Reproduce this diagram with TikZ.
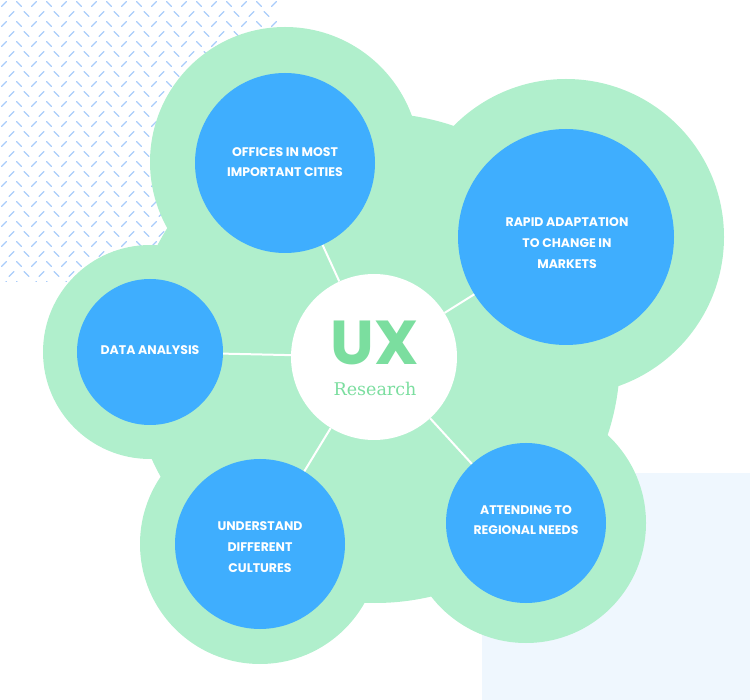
\documentclass[tikz,border=0pt]{standalone}
\usepackage{fontspec}
\setmainfont{Liberation Serif}
\newfontfamily\topicfont{Poppins}
\newfontfamily\resfont{DejaVu Serif}
\usepackage{tikz}
\usetikzlibrary{positioning}

\definecolor{mint}{HTML}{B0EFCC}
\definecolor{skyblue}{HTML}{3FAEFE}
\definecolor{uxgreen}{HTML}{7BDE9F}
\definecolor{paleblue}{HTML}{EFF7FE}
\definecolor{hatchblue}{HTML}{A9CCFA}

\begin{document}
\begin{tikzpicture}[x=1pt, y=-1pt,
  blob/.style={fill=mint},
  topic/.style={circle, fill=skyblue, inner sep=0pt},
  topictext/.style={text=white, inner sep=0pt, align=center,
    font=\topicfont\bfseries\fontsize{12.5}{20.8}\selectfont},
  link/.style={draw=white, line width=2pt},
  hatch/.style={draw=hatchblue, line width=1.4pt, line cap=round}]

\useasboundingbox (0,0) rectangle (750,700);

% backdrop
\fill[paleblue] (482,473) rectangle (750,700);

\begin{scope}
\clip (0,0) rectangle (278,282);
\foreach \j in {0,...,28}
  \foreach \i in {0,...,19} {
    \pgfmathsetmacro\px{\i*15 + mod(\j,2)*7.5 + 4}
    \pgfmathsetmacro\py{\j*10 + 4}
    \ifodd\i
      \draw[hatch] (\px-2.5,\py-2.5) -- ++(5,5);
    \else
      \draw[hatch] (\px-2.5,\py+2.5) -- ++(5,-5);
    \fi
  }
\end{scope}

% green blobs
\fill[blob] (375,358) circle[radius=245pt];
\fill[blob] (285,162) circle[radius=135pt];
\fill[blob] (566,237) circle[radius=158pt];
\fill[blob] (150,352) circle[radius=107pt];
\fill[blob] (260,544) circle[radius=120pt];
\fill[blob] (526,523) circle[radius=120pt];

% topics
\node[topic, minimum size=180pt] (offices) at (285,163) {};
\node[topic, minimum size=216pt] (rapid) at (566,237) {};
\node[topic, minimum size=146pt] (data) at (150,352) {};
\node[topic, minimum size=170pt] (cultures) at (260,544) {};
\node[topic, minimum size=160pt] (regional) at (526,523) {};

\node[topictext] (offices-t) at (285,162) {OFFICES IN MOST\\IMPORTANT CITIES};
\node[topictext] (rapid-t) at (567,243) {RAPID ADAPTATION\\TO CHANGE IN\\MARKETS};
\node[topictext] (data-t) at (150,350) {DATA ANALYSIS};
\node[topictext] (cultures-t) at (260,547) {UNDERSTAND\\DIFFERENT\\CULTURES};
\node[topictext] (regional-t) at (526,520) {ATTENDING TO\\REGIONAL NEEDS};

% hub
\node[circle, fill=white, minimum size=166pt] (hub) at (374,357) {};
\node[text=uxgreen, inner sep=0pt, text height=43pt, text depth=0pt,
  font=\topicfont\bfseries\fontsize{62}{62}\selectfont] (ux) at (375,343) {UX};
\node[text=uxgreen, inner sep=0pt, text height=13pt, text depth=0pt,
  font=\resfont\fontsize{17.5}{20}\selectfont] (research) at (375,389) {Research};

\draw[link] (hub) -- (offices);
\draw[link] (hub) -- (rapid);
\draw[link] (hub) -- (data);
\draw[link] (hub) -- (cultures);
\draw[link] (hub) -- (regional);

\end{tikzpicture}
\end{document}
